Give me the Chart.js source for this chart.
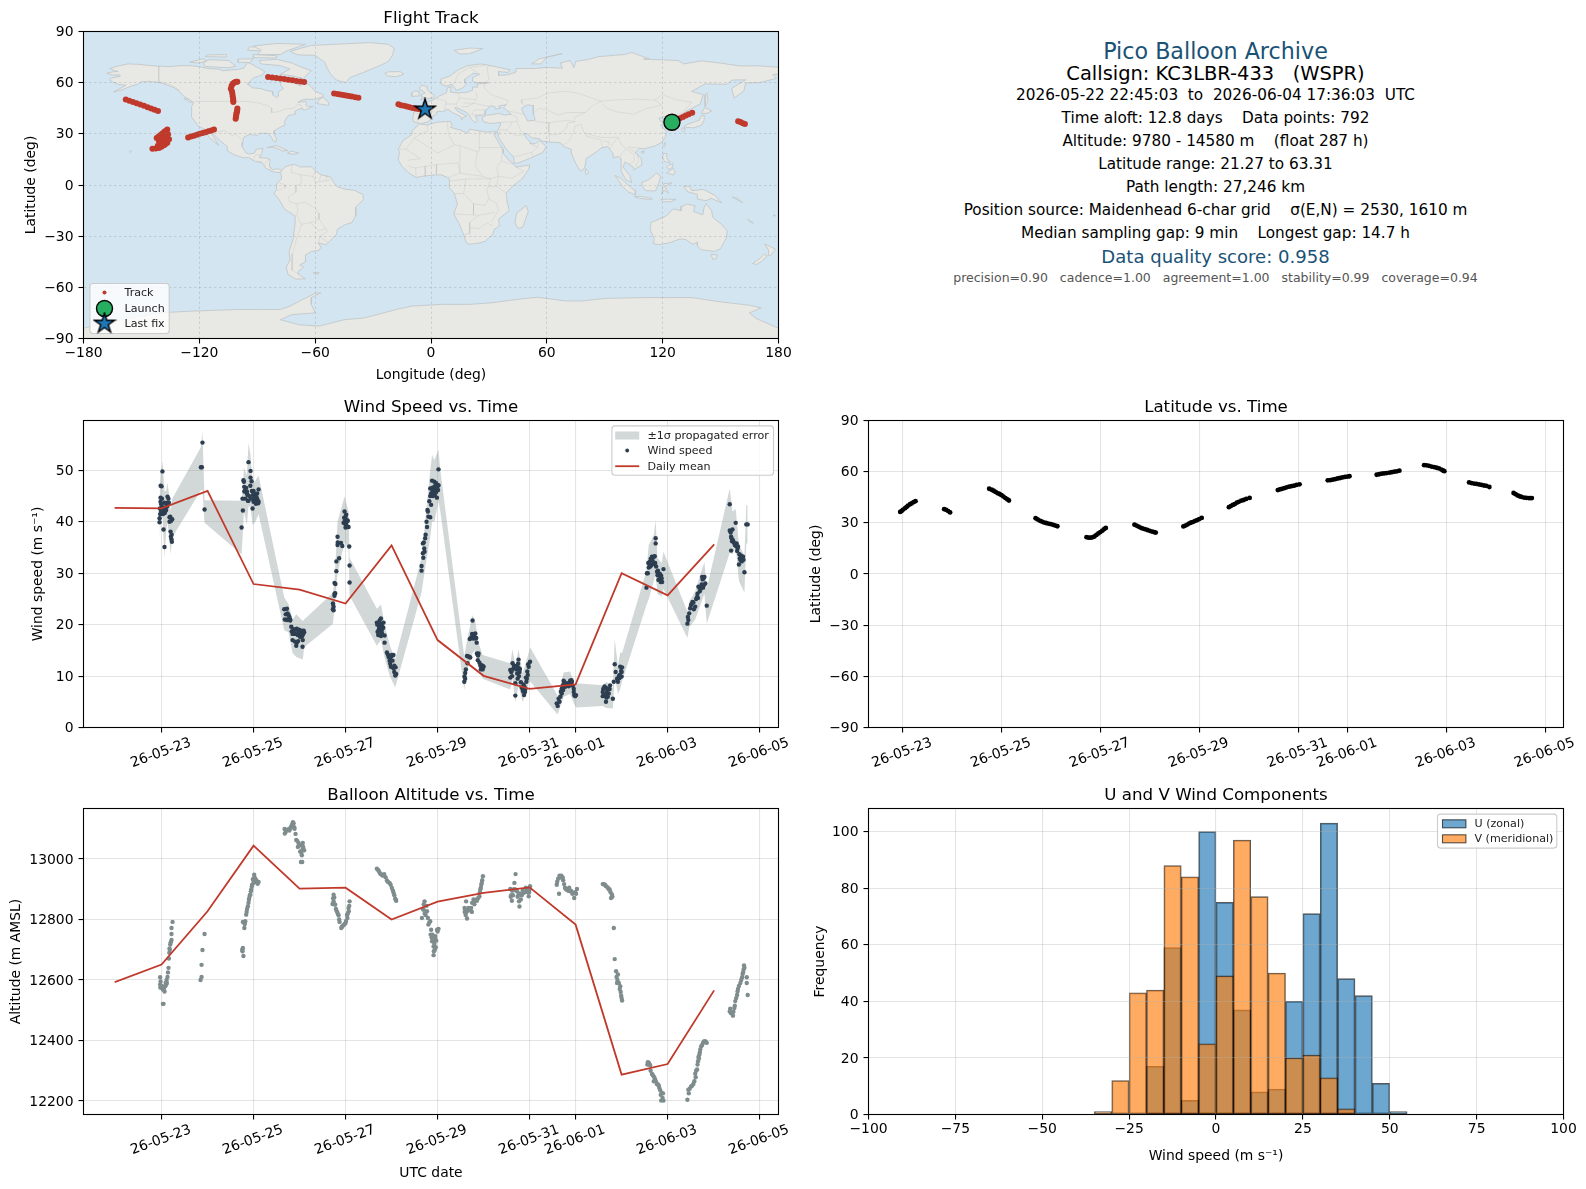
<!DOCTYPE html>
<html>
<head>
<meta charset="utf-8">
<title>Pico Balloon Archive</title>
<script src="https://cdn.jsdelivr.net/npm/chart.js@4"></script>
<style>
html, body { margin: 0; padding: 0; background: #fff; }
#page { position: relative; width: 1586px; height: 1189px; overflow: hidden; font-family: "DejaVu Sans", sans-serif; }
canvas { position: absolute; }
.info { position: absolute; left: 868px; width: 695px; text-align: center; white-space: pre; line-height: 24px; height: 24px; font-size: 15.28px; color: #000; }
</style>
</head>
<body>
<div id="page">
  <canvas id="map_chart"></canvas>
  <canvas id="wind_chart"></canvas>
  <canvas id="lat_chart"></canvas>
  <canvas id="alt_chart"></canvas>
  <canvas id="hist_chart"></canvas>
  <div class="info" style="top:39px;font-size:22.22px;color:#1a5276">Pico Balloon Archive</div>
  <div class="info" style="top:62px;font-size:19.44px">Callsign: KC3LBR-433   (WSPR)</div>
  <div class="info" style="top:83px">2026-05-22 22:45:03  to  2026-06-04 17:36:03  UTC</div>
  <div class="info" style="top:106px">Time aloft: 12.8 days    Data points: 792</div>
  <div class="info" style="top:129px">Altitude: 9780 - 14580 m    (float 287 h)</div>
  <div class="info" style="top:152px">Latitude range: 21.27 to 63.31</div>
  <div class="info" style="top:175px">Path length: 27,246 km</div>
  <div class="info" style="top:198px">Position source: Maidenhead 6-char grid    σ(E,N) = 2530, 1610 m</div>
  <div class="info" style="top:221px">Median sampling gap: 9 min    Longest gap: 14.7 h</div>
  <div class="info" style="top:245px;font-size:18.06px;color:#1a5276">Data quality score: 0.958</div>
  <div class="info" style="top:266px;font-size:12.5px;color:#555">precision=0.90   cadence=1.00   agreement=1.00   stability=0.99   coverage=0.94</div>
</div>
<script>
//Time is in days since 2026-05-22 00:00 UTC
const timeTicks = [1, 3, 5, 7, 9, 10, 12, 14];
const timeTickLabels = ["26-05-23", "26-05-25", "26-05-27", "26-05-29", "26-05-31", "26-06-01", "26-06-03", "26-06-05"];
const lonTicks = [-180, -120, -60, 0, 60, 120, 180];
const latTicks = [-90, -60, -30, 0, 30, 60, 90];
const windTicks = [0, 10, 20, 30, 40, 50];
const altTicks = [12200, 12400, 12600, 12800, 13000];
const histXTicks = [-100, -75, -50, -25, 0, 25, 50, 75, 100];
const histYTicks = [0, 20, 40, 60, 80, 100];

//Daily means
const meanDays = [0, 1, 2, 3, 4, 5, 6, 7, 8, 9, 10, 11, 12, 13];
const meanWind = [42.7, 42.6, 46, 27.9, 26.8, 24.1, 35.4, 17, 10.05, 7.5, 8.4, 30, 25.7, 35.5];
const meanAlt = [12594, 12651, 12827, 13044, 12902, 12905, 12800, 12859, 12888, 12906, 12783, 12287, 12322, 12563];

//Wind speed points
const windDays = [
  1.02,1.00,.978,.978,.993,.964,1.007,1.036,1.08,1.10,1.13,1.13,1.16,1.10,1.065,.957,.957,1.043,1.065,1.174,1.174,1.232,1.196,1.203,1.217,1.225,
  .97,.99,1.01,1.03,1.05,1.07,1.12,1.15,1.19,1.21,1.22,.98,
  1.89,1.855,1.877,1.935,
  2.74,2.768,2.76,2.79,2.78,2.89,2.935,2.935,2.957,2.797,2.84,2.80,2.855,2.877,2.89,2.964,3.0,2.978,3.0,3.043,3.109,3.072,3.058,3.10,3.036,2.855,
  2.81,2.82,2.87,2.91,2.93,2.95,2.99,3.01,3.03,3.05,3.08,3.09,3.06,3.11,
  3.667,3.725,3.739,3.76,3.68,3.725,3.797,3.82,3.87,3.94,3.848,3.906,3.978,4.05,4.10,4.014,3.848,3.94,3.928,4.07,4.065,3.797,
  3.7,3.74,3.78,3.83,3.86,3.88,3.92,3.96,3.99,4.01,4.03,4.06,4.08,4.09,3.9,3.97,
  4.725,4.74,4.725,4.76,4.775,4.76,4.78,4.80,4.80,4.86,4.826,4.826,4.90,4.93,5.08,4.978,5.014,4.99,5.03,4.957,5.014,5.065,5.087,5.087,
  4.73,4.74,4.76,4.83,4.98,5.0,5.0,5.02,5.04,5.05,4.97,5.0,
  5.768,5.68,5.826,5.754,5.73,5.80,5.696,5.754,5.79,5.848,5.848,5.899,5.935,6.007,6.04,5.957,5.986,6.04,6.087,6.058,6.08,
  5.69,5.71,5.72,5.74,5.76,5.78,5.79,5.82,5.77,5.92,5.97,5.97,6.02,6.0,6.06,6.1,
  6.652,6.652,6.68,6.717,6.68,6.73,6.71,6.77,6.80,6.78,6.84,6.84,6.86,6.88,6.93,6.9,6.84,6.949,6.986,6.94,7.02,7.02,6.92,6.86,
  6.7,6.74,6.69,6.76,6.79,6.82,6.87,6.9,6.91,6.95,6.97,7.0,7.01,6.89,6.97,
  7.58,7.585,7.6,7.615,7.64,7.69,7.65,7.76,7.82,7.75,7.7,7.77,7.82,7.85,7.855,7.89,7.875,7.91,7.96,8,7.94,7.98,
  7.6,7.67,7.71,7.73,7.78,7.8,7.84,7.87,7.88,7.93,7.97,7.99,
  8.58,8.6,8.63,8.58,8.76,8.65,8.71,8.76,8.78,8.74,8.81,8.69,8.69,8.85,8.88,8.9,8.93,8.94,8.96,8.98,9.01,8.89,
  8.61,8.62,8.66,8.72,8.73,8.75,8.79,8.77,8.83,8.86,8.87,8.91,8.92,8.95,8.97,
  9.59,9.61,9.63,9.67,9.7,9.74,9.77,9.81,9.85,9.88,9.92,9.96,9.97,10.01,9.7,9.75,
  9.65,9.68,9.72,9.73,9.76,9.79,9.83,9.86,9.9,9.91,9.94,9.96,9.99,
  10.59,10.59,10.63,10.67,10.72,10.75,10.81,10.85,10.83,10.87,10.92,10.96,10.97,11.01,11.0,10.68,
  10.6,10.62,10.65,10.66,10.69,10.7,10.74,10.9,10.94,10.95,10.99,11.0,10.66,
  11.54,11.55,11.59,11.61,11.66,11.70,11.74,11.74,11.62,11.71,11.75,11.78,11.84,11.91,11.87,11.8,11.85,
  11.57,11.6,11.63,11.64,11.67,11.69,11.72,11.73,11.77,11.79,11.82,11.83,11.86,11.88,11.58,
  12.43,12.45,12.47,12.51,12.56,12.6,12.64,12.67,12.72,12.75,12.8,12.82,12.85,12.77,
  12.44,12.49,12.52,12.54,12.57,12.62,12.65,12.66,12.69,12.7,12.74,12.76,12.79,12.78,
  13.35,13.35,13.41,13.48,13.38,13.42,13.49,13.38,13.52,13.56,13.64,13.58,13.55,13.67,13.71,13.74,13.65,
  13.37,13.39,13.4,13.44,13.46,13.5,13.51,13.53,13.57,13.6,13.62,13.61
];
const windSpeed = [
  49.8,46.9,44.7,43.9,43.4,42.6,42.9,42.8,42.0,42.3,44.9,43.7,43.7,43.5,43.7,40.7,39.9,38.5,35.1,40.9,40.0,40.5,38.1,37.1,36.6,36.1,
  41.5,42,44.5,41.5,42.5,41.7,43,44.5,41,40.2,37.5,47,
  55.4,50.6,50.6,42.4,
  38.9,42.2,44.5,47.8,48.1,51.6,49.9,48.6,47.9,46.8,46.6,45.9,45.5,44.1,44.1,46,46,42.6,43.9,45,46.3,44.6,43.9,43.6,44.2,45.9,
  46,44.5,45.2,45,47,44.5,45.2,45.5,44.5,43.5,45.5,44.2,44.8,43.9,
  23,23.1,22.2,21.9,21,20.9,21,19.6,19.1,19.2,18.2,18.2,18.6,18.8,18.5,17.6,17,16.5,15.9,17,15.7,20.8,
  22,21,21.5,18.7,18.8,18.2,19,18,19,18.2,18.5,17.8,18.2,18.8,16.7,16.8,
  23,23.5,24.1,25.6,26.1,28.1,27.9,30.4,32.3,32.9,35.5,37.1,35.9,35.3,35.2,42,41.4,40.3,40.3,39.8,39.4,39,31.5,28.2,
  24,22.8,26,36,40,41,39.5,40,39,40.2,40.8,38.9,
  21.2,20.4,20.4,20.2,19.6,19.6,18.6,18.8,18.4,17.9,16.5,14.6,13.7,14.1,14.1,13,11.8,11.5,11.7,10.8,10.1,
  20,18,19,20.8,19.2,20,19,19.4,17.8,14.2,13.5,12.4,13,13.9,12,10.4,
  30.5,31.4,33.9,34.2,35.8,36.8,34.8,39,41,42.3,45,40.9,43.3,48,47.8,46.7,46.5,46.2,44.7,45.2,47.1,50.2,45.9,45.5,
  36,37.5,33,40,42,44,46.5,45,46.2,47,45.8,46.9,46.2,46,47.5,
  8.9,9.9,10.6,11.3,13.9,13.7,12.5,20.8,18.3,18.2,17.2,17.3,17.3,16.5,14.4,14.4,13.1,12.6,12.1,11.8,11.3,11.3,
  9.5,13.8,13.6,17.5,18,17.6,17.4,14.2,14,12,11.7,11.9,
  9.7,10.8,12.5,11.2,13.2,11.5,11.3,11.6,10.8,9.5,8.8,8.6,6.2,7.4,6.3,6.9,8.9,9.5,10.2,11.8,12.8,7.9,
  11,10,12,12,10.5,12.4,11.4,10,7.8,7,8.3,7.5,9.7,10.9,12.3,
  4.7,4.2,5.6,6,6.6,9.1,7.9,8.4,8,9.1,8.9,6.9,6.3,6.3,7.6,8.4,
  5,7,8.2,7.3,8.8,8.1,8.6,8.3,8.5,9.2,8.1,7.5,6.1,
  6.9,6.1,8,5.8,6.6,8.2,5.6,12.3,8.9,10.8,8.9,10.2,11.8,11.7,9.9,6.9,
  7.5,6.2,7.7,6.4,7.6,6,7.5,9.5,10,9.6,11,10.8,5,
  27.2,30,31.1,32.2,33.2,33.2,36.8,35.8,31.3,31.9,31.3,29.6,29.3,30.8,29,28.7,28.3,
  30,31.9,32.8,31.5,32.5,31.8,33.3,32,30.3,30.5,28.8,29.9,29.5,28.3,32,
  20.2,20.9,22.2,23.8,24.3,23.5,25.4,27.4,27,29.3,29.3,28,23.7,27.2,
  21.5,23.2,24,24.4,23,25,26,25.2,27.2,26.5,27.8,28.8,27.7,29,
  43.4,38.3,38.5,39.8,37.1,36.4,35.3,34.4,34.8,33.7,33.2,32.6,31.7,30.2,39.5,39.5,32.6,
  37.9,36.8,36.2,36,35.5,35.8,34.3,35.2,32.9,33.4,33.1,32.3
];

//Propagated error band
const bandDays = [.96,.98,1.02,1.065,1.10,1.13,1.17,1.2,1.232,1.855,1.89,1.935,2.74,2.768,2.79,2.855,2.89,2.935,2.978,3.04,3.109,3.667,3.76,3.848,3.928,4.07,4.1,4.725,4.76,4.826,4.978,5.065,5.087,5.68,5.77,5.85,5.96,6.08,6.652,6.73,6.84,6.88,6.93,7.02,7.06,7.58,7.64,7.76,7.82,7.89,7.98,8.58,8.63,8.69,8.76,8.85,8.98,9.01,9.59,9.61,9.74,9.88,9.97,10.01,10.59,10.67,10.81,10.85,10.92,10.97,11.01,11.54,11.59,11.7,11.74,11.78,11.87,11.91,12.43,12.47,12.6,12.72,12.8,12.85,13.35,13.41,13.48,13.55,13.67,13.71,13.74];
const bandLow = [36.1,40,41,33,38,40,36.5,33.7,37,46.1,46.2,39.8,33.7,38,42,39.4,43,43,39.4,40,41.5,18.9,18.5,14.5,13.7,13.2,15.6,20.2,23.5,30,36,34.5,25.6,15.9,17,13.5,10,7.8,26.3,31,37,40,40,44,42,7.3,11,14.5,15,12,9.5,7.4,9.5,4.9,8,4.9,8.5,9,2.7,2.6,6,6.5,4.5,3.9,4.2,3.8,3.7,10,6.5,7.5,9,23.8,25,28.5,30,26,25.5,27,17.4,19.5,21,24,26,20.2,34,33.7,35,28.5,26.2,35.8,35.8];
const bandHigh = [46.5,49.5,51.8,46,46,47.6,45,42,44.5,54.5,57.5,44.2,44.1,46.5,50.5,49,55.3,53,47.5,48,49,25.3,24,21,22,20.7,21,26.2,28.5,40,44.9,42,33,23.1,23.9,20,16,13.3,33,40,50,53,52,54,50,13.8,17,21.9,20.5,16.5,14.1,12.5,15.2,12,15.2,10.5,14.5,15.6,6.5,6,10.7,10.9,8.5,8.6,8.2,8.9,7.7,17.2,12,14.6,14.5,30.5,35.5,37.5,40.3,33,32,34.2,22.5,24.5,26.5,30,32.2,27,46.5,42,42.5,35.5,33.5,43.2,43.2];

//Latitude points
const latDays = [
  .95,.98,1.01,1.05,1.08,1.11,1.15,1.18,1.22,1.26,
  1.84,1.88,1.92,1.96,
  2.75,2.8,2.84,2.88,2.92,2.96,3.0,3.04,3.08,3.12,3.15,
  3.69,3.73,3.77,3.81,3.85,3.9,3.95,4.0,4.05,4.09,4.13,
  4.72,4.76,4.8,4.84,4.88,4.92,4.96,5.0,5.04,5.08,5.11,
  5.69,5.73,5.77,5.81,5.85,5.9,5.95,6.0,6.05,6.09,6.12,
  6.68,6.72,6.76,6.8,6.84,6.88,6.92,6.96,7.0,7.05,
  7.6,7.64,7.68,7.72,7.76,7.8,7.85,7.9,7.95,8.02,
  8.59,8.63,8.67,8.72,8.77,8.82,8.87,8.92,8.97,9.03,
  9.6,9.65,9.7,9.75,9.8,9.85,9.9,9.95,10.0,10.04,
  10.59,10.64,10.69,10.74,10.79,10.85,10.9,10.95,11.0,11.05,
  11.55,11.6,11.65,11.7,11.75,11.8,11.85,11.9,11.93,11.96,
  12.46,12.51,12.56,12.61,12.66,12.71,12.76,12.81,12.87,
  13.36,13.4,13.44,13.48,13.52,13.57,13.62,13.67,13.7,13.73
];
const latValues = [
  36.4,37,37.8,38.6,39.3,40.1,40.9,41.4,42.1,42.7,
  38,37.6,36.9,36.1,
  50,49.4,48.8,48.1,47.4,46.9,46.2,45.4,44.5,43.7,43.1,
  32.7,32,31.3,30.8,30.3,29.9,29.5,29.2,28.8,28.4,28,
  21.6,21.3,21.3,21.5,22,22.9,23.8,24.6,25.4,26.4,27,
  28.9,28.4,27.8,27.2,26.7,26.3,25.8,25.3,24.8,24.5,24.3,
  27.9,28.4,29,29.7,30.2,30.6,31.2,31.6,32.2,32.9,
  39.2,39.8,40.5,41,41.8,42.3,43,43.4,44,44.6,
  49.2,49.6,49.9,50.3,50.8,51.2,51.5,51.8,52.2,52.6,
  54.9,55,55.3,55.6,56,56.3,56.6,56.9,57.1,57.3,
  58.2,58.5,58.8,59,59.2,59.4,59.7,60,60.2,60.6,
  63.8,63.7,63.4,63,62.7,62.3,61.9,61.2,60.7,60.3,
  53.7,53.3,53,52.8,52.5,52.2,51.9,51.7,51,
  47.5,46.8,46.1,45.6,45.2,44.8,44.6,44.5,44.5,44.5
];

//Altitude points
const altDays = [
  1.24,1.217,1.217,1.217,1.19,1.174,1.16,1.152,1.13,1.116,1.08,1.065,1.03,.993,.97,.97,1.03,1.043,1.10,
  1.0,1.02,1.05,1.06,1.09,1.11,1.17,1.18,1.2,1.14,.98,.975,
  1.935,1.89,1.87,1.87,1.848,
  2.78,2.754,2.768,2.80,2.768,2.82,2.84,2.877,2.906,2.942,2.964,2.986,3.014,3.036,3.072,3.109,3.0,2.93,
  2.85,2.86,2.89,2.9,2.92,2.95,2.97,3.0,3.02,3.05,3.06,3.09,2.79,2.81,2.76,
  3.68,3.674,3.74,3.797,3.855,3.884,3.78,3.913,3.928,3.978,4.07,3.964,4.014,4.10,4.05,4.03,4.058,
  3.7,3.72,3.76,3.82,3.84,3.87,3.89,3.95,3.99,4.02,4.06,4.08,4.04,
  4.74,4.754,4.717,4.775,4.81,4.848,4.87,4.906,4.957,5.0,5.04,5.07,5.087,5.065,
  4.73,4.74,4.76,4.79,4.83,4.86,4.92,4.93,4.98,5.01,5.03,5.05,5.08,
  5.68,5.72,5.79,5.84,5.899,5.957,6.007,6.043,6.08,6.10,
  5.7,5.74,5.76,5.81,5.87,5.92,5.98,6.03,6.06,6.09,
  6.66,6.717,6.696,6.77,6.80,6.84,6.86,6.99,7.02,6.949,6.88,6.913,6.96,6.913,6.89,
  6.68,6.7,6.72,6.74,6.76,6.79,6.82,6.85,6.87,6.9,6.93,6.95,6.97,7.0,6.94,6.92,
  7.587,7.62,7.6,7.64,7.67,7.73,7.746,7.78,7.855,7.91,7.93,7.96,7.986,
  7.59,7.61,7.63,7.65,7.69,7.71,7.75,7.8,7.83,7.88,7.92,7.94,7.95,7.97,7.8,
  8.695,8.67,8.58,8.615,8.69,8.76,8.78,8.81,8.87,8.94,8.98,9.01,8.73,
  8.6,8.62,8.64,8.66,8.71,8.74,8.77,8.79,8.83,8.85,8.89,8.92,8.96,8.99,9.0,8.59,
  9.59,9.64,9.67,9.72,9.75,9.81,9.88,9.96,9.97,10.03,
  9.6,9.62,9.65,9.69,9.73,9.77,9.79,9.84,9.86,9.9,9.93,9.99,10.01,
  10.59,10.64,10.70,10.74,10.79,10.77,10.83,10.85,10.88,10.92,10.90,10.97,10.99,11.01,
  10.61,10.66,10.72,10.76,10.8,10.89,10.91,10.94,10.96,10.98,11.0,
  11.59,11.56,11.62,11.66,11.71,11.75,11.79,11.82,11.87,11.86,11.91,
  11.57,11.6,11.63,11.68,11.7,11.73,11.77,11.81,11.84,11.85,11.89,11.9,
  12.43,12.45,12.51,12.56,12.61,12.64,12.66,12.69,12.73,12.77,12.82,12.85,
  12.46,12.48,12.53,12.58,12.6,12.62,12.65,12.67,12.68,12.7,12.71,12.75,12.79,12.81,12.83,
  13.35,13.4,13.42,13.45,13.49,13.52,13.58,13.62,13.65,13.66,13.72,13.72,13.74,
  13.36,13.38,13.43,13.46,13.47,13.51,13.53,13.55,13.6,13.63,13.64,13.67
];
const altValues = [
  12792,12772,12752,12732,12717,12704,12671,12640,12610,12590,12579,12562,12568,12574,12585,12609,12521,12521,12585,
  12580,12575,12570,12578,12590,12600,12690,12700,12725,12625,12595,12575,
  12752,12699,12650,12610,12600,
  12679,12700,12706,12772,12792,12794,12816,12844,12871,12893,12910,12932,12948,12935,12924,12924,12921,12882,
  12825,12835,12855,12865,12880,12900,12915,12935,12940,12925,12930,12918,12790,12785,12695,
  13084,13099,13097,13102,13122,13105,13094,13083,13063,13053,13053,13040,13025,13029,13012,12990,12990,
  13090,13095,13098,13108,13115,13118,13100,13060,13045,13045,13030,13040,13020,
  12882,12873,12851,12849,12827,12814,12792,12772,12781,12788,12805,12827,12860,12838,
  12870,12860,12850,12835,12820,12800,12775,12778,12785,12795,12815,12820,12845,
  12968,12961,12948,12950,12929,12921,12904,12888,12869,12862,
  12965,12955,12950,12945,12940,12925,12915,12895,12880,12865,
  12805,12860,12832,12827,12783,12794,12766,12766,12769,12739,12728,12711,12708,12682,12750,
  12835,12850,12820,12815,12845,12805,12790,12750,12740,12730,12720,12745,12730,12760,12700,12695,
  12838,12860,12832,12803,12838,12838,12825,12866,12862,12877,12899,12921,12943,
  12825,12815,12825,12830,12835,12830,12855,12860,12865,12870,12890,12905,12915,12930,12850,
  12950,12921,12901,12862,12899,12882,12843,12866,12888,12899,12877,12910,12893,
  12880,12895,12880,12900,12895,12875,12860,12885,12880,12895,12890,12905,12890,12890,12900,12875,
  12915,12885,12939,12939,12917,12899,12893,12888,12871,12901,
  12925,12935,12945,12945,12930,12905,12900,12895,12905,12895,12885,12890,12885,
  12917,12915,12906,12899,12882,12871,12772,12669,12629,12618,12590,12579,12548,12532,
  12917,12910,12900,12890,12875,12610,12600,12590,12570,12560,12540,
  12326,12320,12318,12289,12278,12263,12254,12243,12226,12201,12201,
  12328,12322,12300,12285,12265,12270,12255,12250,12235,12220,12210,12225,
  12204,12237,12248,12256,12278,12304,12331,12353,12381,12392,12397,12392,
  12225,12240,12250,12265,12290,12300,12320,12345,12340,12360,12370,12385,12397,12397,12395,
  12496,12491,12482,12507,12540,12562,12590,12609,12634,12648,12609,12590,12550,
  12505,12490,12495,12515,12530,12550,12570,12580,12600,12620,12625,12640
];

//Histogram counts, 5 m/s bins
const binCenters = [-32.5,-27.5,-22.5,-17.5,-12.5,-7.5,-2.5,2.5,7.5,12.5,17.5,22.5,27.5,32.5,37.5,42.5,47.5,52.5];
const uCounts = [null,null,null,17,59,5,100,75,37,8,9,40,71,103,48,42,11,1];
const vCounts = [1,12,43,44,88,84,25,49,97,77,50,20,21,13,2,null,null,null];

//Flight track
const trackLon = [
  124.6,126,127.5,129,130.5,132,133.5,135.3,
  159.1,160.3,161.5,162.6,
  -158.1,-156.3,-154.4,-152.5,-150.6,-148.7,-146.8,-145,-143.2,-141.4,
  -136.6,-137.4,-138.3,-139.3,-140.3,-141.2,-142.1,-140.9,-139.7,-138.5,-137.4,-136.5,-135.7,
  -136.6,-137.5,-138.3,-139.6,-140.9,-142.6,-144.3,
  -139.1,-140.9,-138,-137,-141.5,-139,-137.5,-136.2,
  -125.8,-124.3,-122.8,-121.3,-119.8,-118.3,-116.8,-115.3,-113.8,-112.4,
  -101.2,-101,-100.9,-100.8,-100.6,-100.4,-100.3,
  -102.4,-102.4,-102.5,-102.7,-102.9,-103.1,-103.7,
  -103.3,-102.7,-102,-101.1,-100.3,
  -84.4,-82.3,-80.2,-78.1,-76,-73.9,-71.8,-69.8,-67.7,-65.7,
  -50.2,-48.5,-47,-45.5,-44,-42.5,-41,-39.2,-37.6,
  -16.9,-15.5,-14,-12.5,-11,-9.5,-8,-6.5,-5,-3.8
];
const trackLat = [
  37,37.8,38.5,39.2,39.9,40.7,41.5,42.3,
  37.4,36.9,36.2,35.7,
  50.2,49.4,48.7,47.9,47.2,46.4,45.6,44.9,44.1,43.4,
  32.6,31.8,31.1,30,29.1,28.3,27.6,27.2,27.2,27.4,27.6,27.3,26.8,
  24.8,24,23.3,22.5,21.7,21.4,21.3,
  25.2,25.6,29,26,23,23.8,26,29.8,
  27.9,28.4,28.9,29.5,30,30.5,31,31.5,32,32.6,
  38.9,39.8,40.8,41.8,42.7,43.7,44.8,
  48.7,49.6,50.6,52,53.5,55,56.5,
  58,59.4,60,60.6,60.5,
  63.3,63,62.7,62.4,62.1,61.7,61.4,61,60.7,60.4,
  53.6,53.3,53,52.8,52.5,52.2,51.9,51.5,51.1,
  47.4,46.8,46.4,46,45.6,45.2,44.9,44.6,44.2,43.9
];
const launchLon = [124.8];
const launchLat = [36.8];
const lastLon = [-3.1];
const lastLat = [44.3];

//Coastlines, [lon, lat]
const landNorthAmerica = [[-165,60.5],[-166.5,61.7],[-165.5,62.7],[-161,63.8],[-161,64.5],[-165,64.5],[-168,65.6],[-164,66.5],[-162,66.5],[-163.5,67],[-166.5,68.3],[-163,69.5],[-157,71],[-152,70.8],[-145,70],[-140,69.6],[-135,69.4],[-130,70],[-125,70],[-120,69.4],[-115,68.2],[-110,68],[-108,67],[-100,67.8],[-97,68.5],[-95,71.8],[-93,71],[-90,69],[-87.5,67.5],[-86,66.3],[-88,64.2],[-92,62.8],[-94.5,60],[-94.7,58.8],[-92.5,57],[-88,56.5],[-85,55.3],[-82.3,55],[-82,52.9],[-80,51.2],[-79,52],[-79,54.8],[-76.5,56.5],[-78,58.8],[-77.5,60],[-78,62.4],[-74,62.3],[-70,61],[-69.5,59],[-67.5,58.2],[-65,60.3],[-62,57.5],[-60,55],[-56,53],[-55.8,51.8],[-60,50.2],[-66,50.2],[-69,48.5],[-65,49],[-64.5,48],[-65,47],[-64,46],[-61,46],[-63.5,44.7],[-66,43.7],[-66.5,45],[-69,44.2],[-70.7,43],[-70,41.7],[-74,40.6],[-75.5,38],[-76,37],[-75.5,35.3],[-78,33.9],[-81,32],[-81.3,30],[-80,26.9],[-80.5,25.2],[-81.8,26],[-82.7,28],[-84,30],[-86,30.4],[-89,30.2],[-90,29.1],[-94,29.6],[-97,28],[-97.5,25],[-97.8,22.5],[-96,19],[-94.5,18.2],[-91.5,18.6],[-90.5,21],[-87,21.5],[-87.8,18.3],[-88.8,16],[-86,15.9],[-83.3,15],[-83.7,11],[-82,9],[-79.5,9.6],[-77.3,8.6],[-77.9,7.3],[-80,7.4],[-81.5,7.7],[-83,8.3],[-85.7,10],[-87.5,13],[-91.5,14],[-94.5,16.2],[-97,15.9],[-101.5,17.5],[-105.5,20],[-105.5,22.5],[-109,25.8],[-112.5,29.5],[-114.7,31.5],[-112.5,28],[-110,23.2],[-112,25],[-115,28],[-117,32.5],[-120.5,34.5],[-122.5,37.5],[-124.3,40.3],[-124,46],[-123,48.2],[-125,50],[-128,52],[-130,54.5],[-133,57],[-137,58.8],[-140,60],[-146,60.8],[-150,60.5],[-152,59],[-156,57.7],[-160,55.8],[-164.5,54.5],[-158,58.5],[-162,59],[-165,60.5]];
const landSouthAmerica = [[-77.9,7.3],[-77.3,8.6],[-75.5,10.7],[-72,12],[-70,11.8],[-68,10.6],[-62,10.7],[-60,8.4],[-57,6],[-52,4.6],[-50,1],[-48.5,-1],[-44.5,-2.5],[-40,-3],[-35.3,-5.5],[-35,-8.5],[-39,-13],[-39,-18],[-41,-22],[-45,-23.5],[-48.5,-26],[-49,-29],[-52.5,-33],[-54.5,-35],[-58.3,-34],[-57,-36.5],[-58,-38.3],[-62,-39],[-65,-41],[-65,-45],[-68,-47],[-66,-48],[-69,-51],[-68.5,-52.5],[-65,-55],[-70,-55.2],[-74,-52.5],[-75,-48],[-73,-44],[-73.5,-39],[-71.5,-32],[-70.5,-24],[-70.3,-18.3],[-76,-14],[-79,-8],[-81.3,-5],[-80,-2.5],[-80,0.5],[-77.5,3.5],[-77.5,5.5],[-77.9,7.3]];
const landAfrica = [[-5.9,35.8],[-2,35.2],[3,36.8],[10,37.3],[11,35],[10,33.8],[15,32.3],[19,30.3],[20,32.7],[25,31.7],[29,31],[32,31.2],[34.2,31.3],[32.5,29.9],[35.5,24],[37.3,21],[37.5,18.5],[39.5,15.5],[43,12],[44,10.5],[51,11.8],[51,10],[47.5,4],[42,-1],[39,-4.8],[39.5,-10],[40.5,-15],[35,-20],[35.5,-24],[32.7,-26],[32,-29],[28,-33],[25,-34],[20,-34.8],[18.3,-33.8],[17,-29.5],[14.5,-22.5],[11.8,-17],[13.7,-11],[12,-5],[9.5,-1.5],[9.5,3.5],[8.5,4.5],[5,6],[1,5.8],[-4,5.2],[-7.7,4.4],[-12,7.5],[-15,11],[-17,14.7],[-16.3,19.2],[-17,21],[-14.5,26],[-10,29.5],[-9.7,32],[-5.9,35.8]];
const landEurasia = [[-9,37],[-9.5,38.7],[-8.8,43.3],[-1.8,43.4],[-1.2,46],[-4.7,48.3],[-1.5,48.7],[1.5,50.2],[4,52],[8,54],[8.5,57],[10.5,57.5],[10,54.5],[14,54],[19,54.4],[21.3,55.5],[21.5,57.5],[24,57.3],[24,59.3],[28,59.6],[30,60],[23,60],[21.3,61],[21.5,63],[25.2,65],[22,65.5],[17.5,62],[17.5,60],[18.5,59.5],[16.5,57],[14.5,56],[13,55.5],[11,59],[8,58],[5.3,59],[5,62],[10,64],[14,67.5],[19,70],[26,71],[31,70],[41,67.5],[40,66],[35,66.5],[35,64.2],[40,64.7],[44,66.2],[44,68.3],[54,68.3],[60,69],[68,68.5],[67,71.5],[72,73],[74,68.8],[75,72.5],[81,73.5],[87,75.3],[100,76.5],[104,77.7],[113,74],[110,73.8],[128,73],[131,71],[140,72.8],[150,71.5],[160,69.8],[170,69.9],[180,69],[180,65],[177,64.7],[179,62.5],[170,60],[163,59.8],[162,55],[157,51],[155.7,56.7],[163,61.7],[156,61.5],[153,59],[142,59.3],[135,54.9],[141,53],[139.5,47.5],[132,43.2],[129.5,41],[127.5,39.5],[129.3,36.5],[128.5,35],[126.3,34.5],[126.6,37.7],[124.7,39.7],[121.5,39],[122,40.5],[118,39.2],[119,37.3],[122.5,37],[119,35],[121.8,31.5],[121.6,28.5],[119.5,25],[116,22.9],[110.5,21.2],[108,21.6],[105.8,19],[108.9,15.5],[109.3,11.8],[105,8.8],[105,10.3],[100.5,13.6],[99.5,10.5],[103,5.5],[104,1.4],[101,3],[98.5,8],[98.5,15],[97,16.7],[94.5,16],[94.3,18.5],[91.5,22.5],[88,21.7],[86.5,20],[80.3,15.5],[80.2,13],[79.5,10],[77.5,8],[75,12.5],[73,18],[72.7,21],[69,22.3],[67,24.8],[61.5,25.2],[57.2,25.8],[56.4,27],[52,27.7],[50,30],[48,30],[50,26.7],[51.6,25],[51.5,24.2],[54,24.2],[56.2,26],[59.8,22.5],[57.8,19],[52,16],[45,12.8],[43.2,12.8],[42.7,16.5],[39,21],[35,28],[34.9,29.5],[34.3,31.3],[35.8,35],[36,36.7],[32,36.1],[30,36.3],[27.3,37],[26.3,39.5],[29,41],[31.5,41.2],[35,42],[38,41],[41.5,41.5],[39,44],[37.5,45.3],[39,47.2],[35,46.2],[36.3,45.2],[33.5,44.5],[33,46],[30.7,46.5],[28.2,43.5],[28,41.5],[26,40.8],[23,40.5],[24,38],[22.8,36.5],[21,38.5],[19.5,41.5],[18.5,42.5],[14,45],[12.3,45.3],[13.5,43.5],[18.4,40.2],[16.5,39.5],[16,38],[15.5,40],[11,42.5],[8.7,44.4],[6,43],[3.2,43.2],[3,41.8],[0,39.5],[-0.5,38],[-2,36.8],[-5.5,36],[-9,37]];
const landAustralia = [[114,-22],[113.5,-26],[115.7,-32],[115,-34.3],[118,-35],[123.5,-33.9],[129,-31.6],[132,-32],[135.7,-34.8],[138,-33.5],[138,-35.7],[140,-38],[144,-38.5],[146.5,-39],[150,-37.4],[153,-31],[153.5,-27],[150.5,-23],[146,-19],[145.3,-15],[142.5,-10.8],[141.5,-13],[140.8,-17.5],[136,-15.5],[136.8,-12.2],[132.5,-11.2],[130,-12.5],[129.5,-15],[125.5,-14],[122,-18],[117,-20.6],[114,-22]];
const landAntarctica = [[-180,-84],[-165,-80],[-150,-77],[-142,-75],[-125,-74],[-100,-73],[-90,-73],[-78,-73],[-73,-71],[-68,-68],[-60,-63.5],[-57,-63.2],[-62,-66],[-62,-70],[-60,-75],[-72,-76],[-78,-79],[-68,-82],[-58,-82.7],[-45,-79],[-35,-78],[-28,-76],[-18,-73],[-10,-71],[5,-70],[20,-70],[32,-69],[45,-67],[55,-65.8],[70,-68],[78,-68],[90,-66.5],[110,-66],[122,-66],[135,-66],[150,-68.5],[165,-70.5],[171,-72],[165,-75],[168,-78],[180,-84],[180,-90],[-180,-90],[-180,-84]];
const landIslands = [
  [[-73,78.3],[-68,80],[-62,81.8],[-50,82.5],[-32,83.5],[-22,82.5],[-19,80],[-20,76],[-22,72.5],[-26,70.2],[-35,66],[-42,63],[-44,60],[-49,61.5],[-52,65],[-54,69],[-55,72],[-60,76],[-69,76.3],[-73,78.3]],
  [[-80,73.7],[-72,71.5],[-68,69.5],[-62,67],[-64,65],[-66,62.5],[-72,64],[-78,65],[-73,68],[-78,70],[-88,71],[-89,73],[-80,73.7]],
  [[-117,69.5],[-105,68.7],[-101,69.7],[-105,73],[-115,73.5],[-118,71.5],[-117,69.5]],
  [[-125,72],[-118,74],[-116,73],[-120,71.5],[-125,72]],
  [[-90,76.5],[-78,76.5],[-75,78.5],[-65,82.5],[-80,83],[-92,81.5],[-88,79],[-90,76.5]],
  [[-92,74.7],[-80,74.5],[-80,75.8],[-92,76.5],[-92,74.7]],
  [[-100,72],[-94,71.8],[-92,74],[-100,73.8],[-100,72]],
  [[-117,75.3],[-106,75],[-106,76.5],[-116,76.3],[-117,75.3]],
  [[-95,79],[-87,78.5],[-88,81],[-94,81],[-95,79]],
  [[-59,47.7],[-53,46.7],[-53,48.5],[-56,51.5],[-58,50],[-59,47.7]],
  [[-85,22],[-80,23.1],[-74.2,20.2],[-77.5,19.9],[-78,20.7],[-82,22.2],[-85,22]],
  [[-74.4,18.5],[-72.5,19.9],[-68.5,18.8],[-71,18],[-74.4,18.5]],
  [[-24,65.5],[-22,66.4],[-16,66.5],[-14,65],[-18,63.5],[-22.5,63.9],[-24,65.5]],
  [[-128,50.7],[-125,50],[-123.5,48.4],[-125.5,49],[-128,50.7]],
  [[-156,20.2],[-155,19.7],[-155.7,19],[-156,19.6],[-156,20.2]],
  [[-5.5,50],[1.3,51.2],[1.7,52.7],[-0.2,54],[-2,56],[-2,57.7],[-5,58.6],[-6,56.5],[-3,54],[-4.8,53],[-5,51.7],[-3,51.3],[-5.5,50]],
  [[-10,52],[-6.3,52.2],[-6,55],[-8.5,55],[-10,54],[-10,52]],
  [[12,79],[20,80.3],[27,80],[20,77],[15,76.8],[12,79]],
  [[52,71],[56,74],[68,77],[60,75],[57,71],[52,71]],
  [[142,46],[143.5,49],[143,54],[142,53],[142,48],[142,46]],
  [[130.9,34],[136,33.5],[140,35],[141.5,38],[141.5,41],[140,40.5],[139,38],[136.5,37],[132.5,35.5],[130.9,34]],
  [[140,42],[143,42],[145.5,43.5],[141.8,45.4],[140,42]],
  [[130,33.5],[131.7,33],[131,31],[130,32],[130,33.5]],
  [[120.3,23],[121.5,25.2],[121,22.2],[120.3,23]],
  [[108.7,19.3],[110.5,20],[110,18.4],[108.7,19.3]],
  [[120.3,18.5],[122.3,18.4],[122,16],[124,13],[121,13.7],[120,16],[120.3,18.5]],
  [[122,7],[125.5,9.8],[126.5,7.5],[125.5,5.8],[124,6.5],[122,7]],
  [[122,10.5],[123,11.5],[125.5,12.5],[125,10.2],[123,9.2],[122,10.5]],
  [[80,9.7],[81.8,7.5],[80.5,6],[79.8,7.5],[80,9.7]],
  [[95.3,5.6],[98,4.2],[104,-2],[106,-3.2],[105.8,-5.8],[102,-4],[99,-0.5],[95.3,5.6]],
  [[105.3,-6.8],[108.5,-6.6],[114.5,-7.8],[114.3,-8.7],[108,-7.8],[105.3,-6.8]],
  [[109,1.3],[113,3.2],[116.8,7],[119,5.2],[118,1],[116.3,-3.5],[111,-3.3],[109.5,-0.5],[109,1.3]],
  [[119.5,-5.5],[120.4,0.7],[124.9,1.3],[121,-1],[123,-4.8],[120.5,-3],[119.5,-5.5]],
  [[131,-0.8],[134,-0.8],[135,-3.3],[141,-2.6],[147,-6],[150.7,-10.5],[145,-7.8],[142.5,-9.2],[138,-8.3],[138,-5.5],[133,-4],[131,-0.8]],
  [[119,-8.5],[123,-8.3],[127,-8.5],[124,-10],[120,-9.7],[119,-8.5]],
  [[145,-40.8],[148.2,-40.9],[147.9,-43],[146,-43.6],[145,-40.8]],
  [[172.8,-34.5],[178.5,-37.7],[176,-41.3],[174.8,-41.3],[174.8,-38],[172.8,-34.5]],
  [[172.7,-40.5],[174.2,-41.7],[171,-45],[168.5,-46.6],[166.5,-46],[170.5,-43],[172.7,-40.5]],
  [[164,-20],[167,-22.3],[165,-21.5],[164,-20]],
  [[156,-7],[160,-9.5],[161.5,-10.5],[159,-8],[156,-7]],
  [[177.5,-17.5],[178.5,-18],[177.5,-18.2],[177.5,-17.5]],
  [[-61,-51.5],[-58,-51.3],[-58.5,-52.3],[-60.5,-52.2],[-61,-51.5]],
  [[49.3,-12],[50.4,-15.5],[47.5,-24.8],[45,-25.5],[43.5,-22],[44.4,-16.5],[49.3,-12]]
];
const waterCaspian = [[47,45],[50,47],[53,46.5],[53,42],[54,38],[50,37.5],[49,40],[47.5,43],[47,45]];

//Country borders, [lon, lat]
const countryBorders = [
  [[-123,49],[-95,49],[-89,48],[-84.5,46.5],[-82.5,45],[-82.5,42.5],[-79,43],[-76,44.5],[-71,45],[-69,47.3],[-67.5,47],[-67,45]],
  [[-141,69.7],[-141,60.3],[-135,59],[-130,55.5]],
  [[-117,32.5],[-114.7,32.6],[-111,31.3],[-106.5,31.8],[-103,29],[-101,29.8],[-97.5,25.9]],
  [[-92,14.5],[-91,17.5],[-89,17.8],[-88.5,16]],
  [[-90,13.8],[-88,14],[-87.5,13]],
  [[-83.7,15],[-86,13],[-85.7,11]],
  [[-83.5,10.9],[-83,8.3]],
  [[-72,12],[-72.5,7.5],[-67.5,6],[-67,1.2],[-70,-0.5],[-70,-4.2],[-74,-7],[-73,-10],[-69.5,-11],[-69,-16],[-70.3,-18.3]],
  [[-78.5,1.3],[-75.3,0],[-75.5,-1.5],[-80,-3.4]],
  [[-69.5,-11],[-65.4,-10],[-60,-13.5],[-58,-16.5],[-58,-20],[-54.5,-25.5],[-53.8,-27.2],[-57.5,-30.2],[-53.3,-33.8]],
  [[-69.5,-17.5],[-67,-23],[-70,-33],[-71.5,-40],[-72,-50],[-68.5,-52.3]],
  [[-67,-23],[-62.5,-22],[-58,-20]],
  [[-62.5,-22],[-58,-27],[-54.5,-25.5]],
  [[-58.3,-34],[-57.5,-30.2]],
  [[-60,8.4],[-61,5],[-60,1.5],[-52,3]],
  [[-67.5,6],[-61,5]],
  [[-57,6],[-58,2]],
  [[-54,5.8],[-54.5,2.3]],
  [[-2,35.2],[-1.5,32],[-8.7,27.7],[-13,21],[-17,21]],
  [[-8.7,27.7],[3,19],[4,19],[12,23.5],[15,23],[24,19.5],[25,20],[25,31.7]],
  [[8.5,37],[9,30],[12,23.5]],
  [[25,22],[37,22]],
  [[24,19.5],[23,11],[27,5],[31,3.7],[35,5],[42,4],[48,8],[44,10.5]],
  [[-13,21],[-5.5,15.5],[-12,14.5]],
  [[3,12],[14,13],[15,7],[9,4.5]],
  [[3,12],[2.8,6.4]],
  [[-12,11],[-8,10],[-3,11],[3,12]],
  [[-8,10],[-7.7,4.4]],
  [[-3,11],[-3,5]],
  [[15,7],[15,13],[15,23]],
  [[15,7],[27,5]],
  [[9.5,2.3],[18,3.5],[17,-5],[12,-5]],
  [[18,3.5],[31,3.7]],
  [[17,-5],[22,-11],[28,-12],[30,-8],[29,-3],[31,3.7]],
  [[30,-8],[34,-11],[35,-15],[31,-22]],
  [[29.5,-1],[34,-1],[39,-4.8]],
  [[34,-1],[35,5]],
  [[12,-17],[25,-17.7],[33,-16]],
  [[25,-17.7],[20,-22],[20,-28.5],[17,-29]],
  [[20,-25],[25,-25.5],[29,-22.2],[32,-24]],
  [[22,-11],[22,-17.5]],
  [[37,22],[36.5,14],[34,10],[35,5]],
  [[36.5,14],[43,12]],
  [[28,59.6],[27.5,57],[31,53],[40,49.5],[39,47.2]],
  [[28,59.6],[30,62],[29,69],[31,70]],
  [[12,59.5],[14,65],[20,69],[28,70]],
  [[24,65.8],[20,69]],
  [[-1.8,43.4],[3.2,42.5]],
  [[-9,42],[-6.5,42],[-7,37.2]],
  [[2.5,51],[8,49],[7.5,47.5],[7,44]],
  [[14,54],[15,51],[23,50],[24,52],[23,54.3]],
  [[7.5,47.5],[13,47.5],[14,45.5]],
  [[15,51],[13,47.5]],
  [[17,48],[22,48],[24,50]],
  [[22,48],[30,46]],
  [[22,48],[19,46],[16,46]],
  [[22.5,44],[29,44]],
  [[22.5,44],[21,41],[26,41.5]],
  [[36,36.7],[44.5,37.2],[44.5,39.7],[41.5,41.5]],
  [[44.5,37.2],[46,33],[48,30]],
  [[48,29.5],[44,29],[39,32],[36,32.5],[34.9,29.5]],
  [[42,37],[41,34.5],[39,32]],
  [[43,16.5],[52,19],[55,22],[52,24]],
  [[55,22],[56,24.5]],
  [[52,19],[53,16.5]],
  [[39.9,43.4],[48,41.5]],
  [[54,37.3],[61,36.5],[61,31],[61.5,25.2]],
  [[61,29.5],[66,29.5],[70,33],[71,36.5],[74.5,37]],
  [[68.5,23.5],[71,25],[74,31],[74.5,34.5],[78,35.5]],
  [[78,35.5],[79,31],[81,30],[88,27.8],[97,28]],
  [[81,30],[80,28.8],[88,26.4]],
  [[88,26],[89,22]],
  [[92,23],[92.5,25],[89,26]],
  [[92.5,21],[94,24],[97,28],[98.5,24],[101,21.5],[98,17],[98.5,15]],
  [[101,21.5],[105,18],[105.5,14.3],[102.5,12]],
  [[102,22.4],[107,18],[107.5,14.5],[106,11]],
  [[102,22.4],[108,21.6]],
  [[87.8,49.2],[91,45],[97,42.7],[105,41.6],[112,45],[119.5,46.8],[116,49.8]],
  [[87.8,49.2],[98,50],[106,50.3],[116,49.8],[120,53],[127,50],[135,48.5],[131,43]],
  [[47,50],[55,51],[61,54],[70,55],[77,53.5],[87.8,49.2]],
  [[47,50],[47,48],[49,46.5]],
  [[53,42],[56,45],[60,44],[66,41],[70.5,42.5],[80,42.5],[82.5,45.5],[87.8,49.2]],
  [[80,42.5],[74,39.5],[74.5,37]],
  [[61,36.5],[66,37.3],[71,38],[74.5,37]],
  [[124.5,40],[128,41.8],[130.5,42.3]],
  [[126.5,38],[128.4,38.5]]
];

//------------------------------------------
const RED = "#c0392b";
const NAVY = "#2c3e50";
const SLATE = "#7f8c8d";
const AREA = "rgba(127,140,141,0.35)";
const GRID = "rgba(176,176,176,0.34)";
const MAP_GRID = "rgba(128,128,128,0.38)";
const SANS = "'DejaVu Sans', sans-serif";

Chart.defaults.font.family = SANS;
Chart.defaults.font.size = 13.9;
Chart.defaults.color = "#000";
Chart.defaults.animation = false;

const zip = (xs, ys) => xs.map((x, i) => ({x: x, y: ys[i]}));
const pairs = (list) => list.map((p) => ({x: p[0], y: p[1]}));

//5 point star used as a marker
function starMarker(size, fill) {
  const c = document.createElement("canvas");
  c.width = size; c.height = size;
  const g = c.getContext("2d");
  const R = size / 2 - 1.5, r = R * 0.381;
  g.beginPath();
  for (let i = 0; i < 10; i++) {
    const a = -Math.PI / 2 + i * Math.PI / 5, q = i % 2 ? r : R;
    g.lineTo(size / 2 + q * Math.cos(a), size / 2 + q * Math.sin(a));
  }
  g.closePath();
  g.fillStyle = fill;
  g.fill();
  g.lineWidth = 1.4;
  g.lineJoin = "miter";
  g.strokeStyle = "#000";
  g.stroke();
  return c;
}
const star = starMarker(24, "#1f77b4");

//spines on all four sides, plus ocean behind the map
const frame = {
  id: "frame",
  beforeDraw(chart, args, options) {
    if (!options.fill) return;
    const {ctx, chartArea: a} = chart;
    ctx.save();
    ctx.fillStyle = options.fill;
    ctx.fillRect(a.left, a.top, a.width, a.height);
    ctx.restore();
  },
  afterDraw(chart) {
    const {ctx, chartArea: a} = chart;
    ctx.save();
    ctx.strokeStyle = "#000";
    ctx.lineWidth = 1.1;
    ctx.strokeRect(a.left, a.top, a.width, a.height);
    ctx.restore();
  }
};

//legend box inside the plot, matplotlib style
const boxLegend = {
  id: "boxLegend",
  afterDraw(chart, args, o) {
    if (!o.rows) return;
    const {ctx, chartArea: a} = chart;
    const x0 = a.left + o.x, y0 = a.top + o.y;
    ctx.save();
    ctx.beginPath();
    ctx.roundRect(x0, y0, o.w, o.h, 3);
    ctx.fillStyle = "rgba(255,255,255,0.8)";
    ctx.fill();
    ctx.lineWidth = 1.1;
    ctx.strokeStyle = "#ccc";
    ctx.stroke();
    ctx.font = o.size + "px " + SANS;
    ctx.textBaseline = "middle";
    o.rows.forEach((row) => {
      const y = y0 + row.y, sx = a.left + o.keyX, tx = a.left + o.textX, kw = o.keyW;
      if (row.kind === "patch") {
        ctx.fillStyle = row.fill;
        ctx.fillRect(sx, y - 4, kw, 8);
        if (row.edge) {
          ctx.strokeStyle = row.edge;
          ctx.lineWidth = 1.1;
          ctx.strokeRect(sx, y - 4, kw, 8);
        }
      } else if (row.kind === "line") {
        ctx.strokeStyle = row.stroke;
        ctx.lineWidth = 1.8;
        ctx.beginPath();
        ctx.moveTo(sx, y);
        ctx.lineTo(sx + kw, y);
        ctx.stroke();
      } else if (row.kind === "dot") {
        ctx.fillStyle = row.fill;
        ctx.beginPath();
        ctx.arc(sx + kw / 2, y, row.r, 0, Math.PI * 2);
        ctx.fill();
      } else if (row.kind === "circle") {
        ctx.fillStyle = row.fill;
        ctx.strokeStyle = "#000";
        ctx.lineWidth = 1.4;
        ctx.beginPath();
        ctx.arc(sx + kw / 2, y, row.r, 0, Math.PI * 2);
        ctx.fill();
        ctx.stroke();
      } else if (row.kind === "star") {
        ctx.drawImage(star, sx + kw / 2 - 12, y - 12);
      }
      ctx.fillStyle = "#222";
      ctx.fillText(row.text, tx, y + 0.5);
    });
    ctx.restore();
  }
};

//------------------------------------------
//Axis helpers. afterFit pins the plot rectangle to where the reference has it
function numAxis(tickValues, min, max, size, title, gridExtra, borderExtra) {
  const ax = {
    type: "linear",
    min: min,
    max: max,
    offset: false,
    afterBuildTicks: (s) => { s.ticks = tickValues.map((v) => ({value: v})); },
    afterFit: (s) => {
      if (s.isHorizontal()) s.height = size; else s.width = size;
      s.paddingLeft = s.paddingRight = s.paddingTop = s.paddingBottom = 0;
    },
    border: Object.assign({display: false}, borderExtra || {}),
    grid: Object.assign({offset: false, color: GRID, lineWidth: 1.1, tickLength: 5, tickColor: "#000", tickWidth: 1.1}, gridExtra || {}),
    ticks: {
      autoSkip: false,
      padding: 2,
      maxRotation: 0,
      minRotation: 0,
      color: "#000",
      callback: (v) => String(v).replace("-", "\u2212")
    }
  };
  if (title) ax.title = {display: true, text: title, padding: 0, font: {size: 13.9}, color: "#000"};
  return ax;
}

function valueAxis(tickValues, min, max, size, title, gridExtra, borderExtra) {
  const ax = numAxis(tickValues, min, max, size, title, gridExtra, borderExtra);
  ax.ticks.padding = 5;
  ax.ticks.labelOffset = 1;
  return ax;
}

function timeAxis(min, max, size, title) {
  const ax = numAxis(timeTicks, min, max, size, title);
  ax.ticks.maxRotation = 20;
  ax.ticks.minRotation = 20;
  ax.ticks.labelOffset = 29;
  ax.ticks.padding = 2;
  ax.ticks.callback = (v, i) => timeTickLabels[i];
  return ax;
}

//canvases sit on whole pixels, the plot rectangle on pixel centres
function place(id, plot, yTitleX, xSize, rightPad) {
  const el = document.getElementById(id);
  const left = Math.round(yTitleX - 8.34);
  const top = plot.t - 22.5 - ((plot.t - 22.5) % 1);
  el.style.left = left + "px";
  el.style.top = top + "px";
  el.width = Math.ceil(plot.r + rightPad - left);
  el.height = Math.ceil(plot.b + xSize - top);
  el.style.width = el.width + "px";
  el.style.height = el.height + "px";
  return {el: el, yw: plot.l - left, pr: el.width - (plot.r - left), pb: el.height - (plot.b - top) - xSize, tp: plot.t - top - 20};
}

function baseOptions(box, titleText, scales, extra) {
  return {
    responsive: false,
    devicePixelRatio: 1,
    layout: {autoPadding: false, padding: {left: 0, top: 0, right: box.pr, bottom: box.pb}},
    scales: scales,
    plugins: Object.assign({
      legend: {display: false},
      tooltip: {enabled: false},
      title: {display: true, text: titleText, fullSize: false, padding: {top: 0, bottom: box.tp}, font: {size: 16.67, weight: "normal", lineHeight: 1.2}, color: "#000"}
    }, extra || {})
  };
}

//------------------------------------------
//Flight track map
const mapPlot = {l: 83.5, t: 31.5, r: 778.5, b: 338.5};
const mapBox = place("map_chart", mapPlot, 31.3, 45.6, 20);
const landStyle = {type: "line", fill: "shape", backgroundColor: "#e8e8e4", borderColor: "#c3c8ca", borderWidth: 0.9, pointRadius: 0, tension: 0, order: 10};
const landSets = [landNorthAmerica, landSouthAmerica, landAfrica, landEurasia, landAustralia, landAntarctica].concat(landIslands)
  .map((poly) => Object.assign({data: pairs(poly)}, landStyle));
const borderSets = countryBorders.map((line) => ({type: "line", data: pairs(line), borderColor: "rgba(175,178,178,0.35)", borderWidth: 0.7, pointRadius: 0, fill: false, order: 8}));
const mapGrid = {z: 1, color: MAP_GRID, lineWidth: 0.7};
const mapDash = {dash: [2.5, 2.5]};
new Chart(mapBox.el, {
  type: "line",
  data: {datasets: landSets.concat([
    Object.assign({data: pairs(waterCaspian)}, landStyle, {backgroundColor: "#d3e5f1", order: 9}),
  ]).concat(borderSets).concat([
    {label: "Track", data: zip(trackLon, trackLat), showLine: false, pointRadius: 3, pointBackgroundColor: RED, pointBorderWidth: 0, order: 3},
    {label: "Launch", data: zip(launchLon, launchLat), showLine: false, pointRadius: 8, pointBackgroundColor: "#27ae60", pointBorderColor: "#000", pointBorderWidth: 1.4, order: 2},
    {label: "Last fix", data: zip(lastLon, lastLat), showLine: false, pointStyle: star, order: 1}
  ])},
  options: baseOptions(mapBox, "Flight Track", {
    x: numAxis(lonTicks, -180, 180, 45.6, "Longitude (deg)", mapGrid, mapDash),
    y: valueAxis(latTicks, -90, 90, mapBox.yw, "Latitude (deg)", mapGrid, mapDash)
  }, {
    frame: {fill: "#d3e5f1"},
    boxLegend: {x: 6.4, y: 252, w: 79.3, h: 50, keyX: 9, keyW: 24, textX: 41, size: 11.1, rows: [
      {kind: "dot", fill: RED, r: 2, y: 9, text: "Track"},
      {kind: "circle", fill: "#27ae60", r: 8, y: 25, text: "Launch"},
      {kind: "star", y: 40, text: "Last fix"}
    ]}
  }),
  plugins: [frame, boxLegend]
});

//Wind speed
const windPlot = {l: 83.5, t: 420.5, r: 778.5, b: 727.5};
const windBox = place("wind_chart", windPlot, 38.4, 48, 20);
new Chart(windBox.el, {
  type: "line",
  data: {datasets: [
    {label: "\u00b11\u03c3 propagated error", data: zip(bandDays, bandLow), fill: {target: "+1"}, backgroundColor: AREA, borderWidth: 0, pointRadius: 0, tension: 0, order: 3},
    {data: zip(bandDays, bandHigh), fill: false, borderWidth: 0, pointRadius: 0, tension: 0, order: 3},
    {label: "Wind speed", data: zip(windDays, windSpeed), showLine: false, pointRadius: 2.2, pointBackgroundColor: NAVY, pointBorderWidth: 0, order: 2},
    {label: "Daily mean", data: zip(meanDays, meanWind), borderColor: RED, borderWidth: 1.8, borderCapStyle: "square", pointRadius: 0, tension: 0, fill: false, order: 1}
  ]},
  options: baseOptions(windBox, "Wind Speed vs. Time", {
    x: timeAxis(-0.696, 14.41, 48),
    y: valueAxis(windTicks, 0, 59.7, windBox.yw, "Wind speed (m s\u207b\u00b9)")
  }, {
    boxLegend: {x: 528.4, y: 5.4, w: 161.6, h: 49.3, keyX: 531.7, keyW: 24, textX: 564, size: 11.1, rows: [
      {kind: "patch", fill: AREA, y: 9.6, text: "\u00b11\u03c3 propagated error"},
      {kind: "dot", fill: NAVY, r: 1.9, y: 24.6, text: "Wind speed"},
      {kind: "line", stroke: RED, y: 40.3, text: "Daily mean"}
    ]}
  }),
  plugins: [frame, boxLegend]
});

//Latitude
const latPlot = {l: 868.5, t: 420.5, r: 1563.5, b: 727.5};
const latBox = place("lat_chart", latPlot, 816, 48, 20);
new Chart(latBox.el, {
  type: "line",
  data: {datasets: [
    {label: "Latitude", data: zip(latDays, latValues), showLine: false, pointRadius: 2.4, pointBackgroundColor: "#000", pointBorderWidth: 0}
  ]},
  options: baseOptions(latBox, "Latitude vs. Time", {
    x: timeAxis(0.309, 14.37, 48),
    y: valueAxis(latTicks, -90, 90, latBox.yw, "Latitude (deg)")
  }),
  plugins: [frame]
});

//Altitude
const altPlot = {l: 83.5, t: 808.5, r: 778.5, b: 1114.5};
const altBox = place("alt_chart", altPlot, 16.2, 67, 20);
new Chart(altBox.el, {
  type: "line",
  data: {datasets: [
    {label: "Altitude", data: zip(altDays, altValues), showLine: false, pointRadius: 2.2, pointBackgroundColor: SLATE, pointBorderWidth: 0, order: 2},
    {label: "Daily mean", data: zip(meanDays, meanAlt), borderColor: RED, borderWidth: 1.8, borderCapStyle: "square", pointRadius: 0, tension: 0, fill: false, order: 1}
  ]},
  options: baseOptions(altBox, "Balloon Altitude vs. Time", {
    x: timeAxis(-0.696, 14.41, 67, "UTC date"),
    y: valueAxis(altTicks, 12155, 13167, altBox.yw, "Altitude (m AMSL)")
  }),
  plugins: [frame]
});

//U and V histogram
const histPlot = {l: 868.5, t: 808.5, r: 1563.5, b: 1114.5};
const histBox = place("hist_chart", histPlot, 820.3, 50.3, 20);
const U_FILL = "rgba(31,119,180,0.65)";
const V_FILL = "rgba(255,127,14,0.65)";
const BAR_EDGE = "rgba(0,0,0,0.65)";
const barStyle = {grouped: false, barPercentage: 1, categoryPercentage: 1, borderColor: BAR_EDGE, borderWidth: 1.1, borderSkipped: false};
new Chart(histBox.el, {
  type: "bar",
  data: {datasets: [
    Object.assign({label: "U (zonal)", data: zip(binCenters, uCounts), backgroundColor: U_FILL, order: 2}, barStyle),
    Object.assign({label: "V (meridional)", data: zip(binCenters, vCounts), backgroundColor: V_FILL, order: 1}, barStyle)
  ]},
  options: baseOptions(histBox, "U and V Wind Components", {
    x: numAxis(histXTicks, -100, 100, 50.3, "Wind speed (m s\u207b\u00b9)", {z: 1}),
    y: valueAxis(histYTicks, 0, 108.15, histBox.yw, "Frequency", {z: 1})
  }, {
    boxLegend: {x: 569, y: 5.6, w: 119.3, h: 34, keyX: 574, keyW: 23.4, textX: 606, size: 11.1, rows: [
      {kind: "patch", fill: U_FILL, edge: BAR_EDGE, y: 9.7, text: "U (zonal)"},
      {kind: "patch", fill: V_FILL, edge: BAR_EDGE, y: 24.7, text: "V (meridional)"}
    ]}
  }),
  plugins: [frame, boxLegend]
});
</script>
</body>
</html>
